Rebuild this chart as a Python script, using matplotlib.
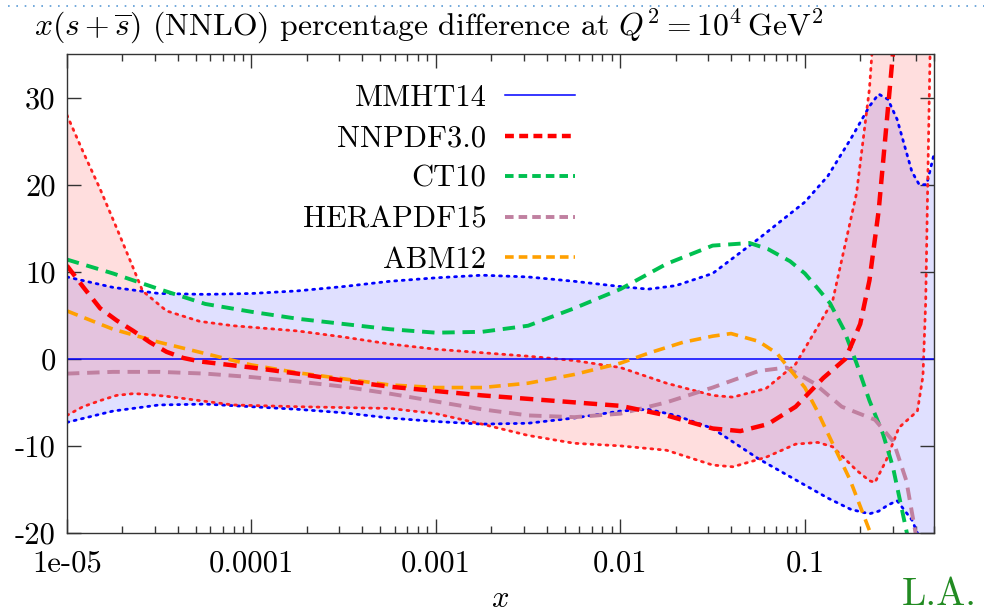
import matplotlib
matplotlib.use("Agg")
import matplotlib.pyplot as plt
from matplotlib.lines import Line2D
import numpy as np

plt.rcParams['font.family'] = ['cmr10', 'DejaVu Serif']
plt.rcParams['mathtext.fontset'] = 'cm'
plt.rcParams['axes.unicode_minus'] = False

# ---- data (x given as log10 x) ----
mmht_lx = [-5, -4.75, -4.5, -4.25, -4, -3.75, -3.5, -3.25, -3, -2.75, -2.5, -2.25, -2,
           -1.85, -1.7, -1.5, -1.25, -1, -0.875, -0.75, -0.65, -0.6, -0.55, -0.5,
           -0.42, -0.38, -0.34, -0.3]
mmht_up = [9.4, 8.2, 7.5, 7.4, 7.5, 7.8, 8.3, 8.9, 9.3, 9.6, 9.4, 8.9, 8.3,
           8.0, 8.4, 9.8, 13.8, 18.0, 21.0, 25.3, 29.0, 30.4, 29.8, 27.5,
           21.5, 20.0, 20.0, 23.5]
mmht_lo = [-7.3, -6.0, -5.3, -5.2, -5.5, -5.8, -6.2, -6.8, -7.2, -7.5, -7.4, -6.8, -6.0,
           -5.8, -6.5, -8.0, -11.5, -14.5, -16.0, -17.3, -17.8, -17.5, -16.8, -16.3,
           -18.5, -20.5, -23.0, -26.0]

nnpdf_lx = [-5, -4.913, -4.82, -4.73, -4.64, -4.59, -4.46, -4.28, -4.1, -3.75, -3.5,
            -3.25, -3, -2.75, -2.5, -2.25, -2, -1.75, -1.5, -1.39, -1.21, -1.05, -0.93,
            -0.85, -0.72, -0.65, -0.62, -0.56, -0.49, -0.39, -0.36, -0.345, -0.33, -0.3]
nnpdf_up = [28, 23.8, 19.5, 15, 10.4, 7.8, 5.5, 4.3, 3.8, 3.2, 2.5,
            1.7, 1.1, 0.7, 0.3, -0.2, -1.0, -2.8, -4.2, -4.4, -3.4, -0.6, 3.7,
            6.6, 19, 31, 40, 50, 60, 60, 60, 60, 60, 60]
nnpdf_lo = [-6.5, -5.5, -4.8, -4.2, -4.0, -4.05, -4.3, -4.8, -5.3, -5.5, -5.6,
            -5.7, -6.3, -7.5, -8.8, -9.7, -10.0, -10.5, -12.2, -12.4, -11.3, -9.8, -9.6,
            -10.1, -12.8, -14.0, -14.2, -11.7, -7.9, -6.0, -2.0, 6.6, 25, 60]

nnpdf_c_lx = [-5, -4.91, -4.82, -4.73, -4.64, -4.55, -4.46, -4.37, -4.28, -4, -3.75,
              -3.5, -3.25, -3, -2.75, -2.5, -2.25, -2, -1.75, -1.5, -1.35, -1.2, -1.05,
              -0.9, -0.78, -0.7, -0.65, -0.6, -0.57, -0.54, -0.51]
nnpdf_c = [10.7, 8.2, 5.8, 4.4, 3.2, 1.9, 0.8, 0.1, -0.3, -1.0, -1.7,
           -2.5, -3.2, -3.7, -4.2, -4.6, -5.0, -5.4, -6.5, -8.0, -8.3, -7.5, -5.5,
           -2.2, 0.0, 4.0, 9.0, 17.0, 24.0, 31.0, 38.0]

ct10_lx = [-5, -4.75, -4.5, -4.25, -4, -3.75, -3.5, -3.25, -3, -2.75, -2.5, -2.25, -2,
           -1.75, -1.5, -1.3, -1.2, -1.08, -1.0, -0.935, -0.864, -0.79, -0.72, -0.65,
           -0.577, -0.523, -0.485, -0.447, -0.4]
ct10 = [11.4, 9.8, 8.0, 6.3, 5.4, 4.6, 4.0, 3.4, 3.0, 3.1, 3.8, 5.8, 8.0,
        10.9, 13.0, 13.3, 12.6, 11.2, 9.8, 8.2, 6.4, 3.4, -0.5, -4.8,
        -8.6, -12.4, -16.2, -20.0, -27.0]

hera_lx = [-5, -4.75, -4.5, -4.25, -4, -3.75, -3.5, -3.25, -3, -2.75, -2.5, -2.25, -2,
           -1.75, -1.5, -1.25, -1.1, -0.95, -0.8, -0.62, -0.52, -0.45, -0.4, -0.36]
hera = [-1.7, -1.5, -1.5, -1.7, -2.1, -2.6, -3.2, -4.0, -4.9, -5.8, -6.5, -6.7, -6.3,
        -5.0, -3.3, -1.4, -1.0, -2.8, -5.5, -7.0, -9.5, -14.0, -20.0, -26.0]

abm_lx = [-5, -4.75, -4.5, -4.25, -4, -3.75, -3.5, -3.25, -3, -2.75, -2.5, -2.25, -2,
          -1.84, -1.66, -1.5, -1.4, -1.25, -1.15, -1.09, -1.0, -0.935, -0.85, -0.755,
          -0.65, -0.6]
abm = [5.5, 3.4, 1.9, 0.6, -0.7, -1.6, -2.3, -3.0, -3.3, -3.3, -2.8, -1.8, -0.5,
       0.7, 1.9, 2.6, 2.9, 2.0, 0.6, -1.0, -3.3, -5.9, -9.7, -13.9,
       -19.7, -26.0]

labels = ['MMHT14', 'NNPDF3.0', 'CT10', 'HERAPDF15', 'ABM12']
colors = ['#0000ff', '#ff0000', '#00c050', '#c080a0', '#ffa000']

xt = [1e-5, 1e-4, 1e-3, 1e-2, 1e-1]
xt_labels = ['1e-05', '0.0001', '0.001', '0.01', '0.1']
yt = [-20, -10, 0, 10, 20, 30]

fig = plt.figure(figsize=(9.84, 6.11), dpi=100)
ax = fig.add_axes([0.068, 0.1277, 0.881, 0.7839])

X = lambda lx: 10.0 ** np.asarray(lx)

ax.fill_between(X(mmht_lx), mmht_lo, mmht_up, color=(0, 0, 1), alpha=0.12, lw=0)
ax.fill_between(X(nnpdf_lx), nnpdf_lo, nnpdf_up, color=(1, 0, 0), alpha=0.13, lw=0)

dot = (0, (0.7, 2.0))
ax.plot(X(mmht_lx), mmht_up, color='#0000ff', ls=dot, lw=2.0, dash_capstyle='round')
ax.plot(X(mmht_lx), mmht_lo, color='#0000ff', ls=dot, lw=2.0, dash_capstyle='round')
ax.plot(X(nnpdf_lx), nnpdf_up, color='#ff2020', ls=dot, lw=2.0, dash_capstyle='round')
ax.plot(X(nnpdf_lx), nnpdf_lo, color='#ff2020', ls=dot, lw=2.0, dash_capstyle='round')

ax.axhline(0, color=colors[0], lw=1.1)
ax.plot(X(ct10_lx), ct10, color=colors[2], lw=2.8, dashes=(3.2, 2.0))
ax.plot(X(hera_lx), hera, color=colors[3], lw=2.8, dashes=(3.2, 2.0))
ax.plot(X(abm_lx), abm, color=colors[4], lw=2.6, dashes=(3.2, 2.0))
ax.plot(X(nnpdf_c_lx), nnpdf_c, color=colors[1], lw=3.2, dashes=(3.0, 1.8))

ax.set_xscale('log')
ax.set_xlim(1e-5, 0.5)
ax.set_ylim(-20, 35)
ax.set_xticks(xt)
ax.set_xticklabels(xt_labels)
ax.set_yticks(yt)
ax.set_yticklabels([str(v) for v in yt])
ax.tick_params(which='both', direction='in', top=True, right=True,
               labelsize=22, color='#333333')
ax.tick_params(axis='x', pad=12)
ax.tick_params(axis='y', pad=8)
ax.tick_params(which='major', length=10, width=1)
ax.tick_params(which='minor', length=5, width=1)
for s in ax.spines.values():
    s.set_color('#333333')
    s.set_linewidth(1.0)
ax.set_xlabel('$x$', fontsize=22, labelpad=6)

handles = [Line2D([], [], color=colors[0], lw=1.1),
           Line2D([], [], color=colors[1], lw=3.2, dashes=(2.0, 1.2)),
           Line2D([], [], color=colors[2], lw=2.8, dashes=(2.2, 1.3)),
           Line2D([], [], color=colors[3], lw=2.8, dashes=(2.2, 1.3)),
           Line2D([], [], color=colors[4], lw=2.6, dashes=(2.4, 1.4))]
ax.legend(handles, labels, loc='upper right', bbox_to_anchor=(0.586, 0.937),
          frameon=False, markerfirst=False, fontsize=22, handlelength=2.3,
          handletextpad=0.6, labelspacing=0.43, borderaxespad=0, borderpad=0)

fig.text(0.035, 0.958,
         r'$x(s+\overline{s})$ (NNLO) percentage difference at $Q^2 = 10^4\,\mathrm{GeV}^2$',
         fontsize=22.8, va='center', ha='left')
fig.text(0.916, 0.01, 'L.A.', fontsize=28, color='#228b22', ha='left', va='baseline')
fig.add_artist(Line2D([0.008, 1.0], [0.99, 0.99], color='#5b9bd5', lw=1.2,
                      ls=(0, (1, 4)), transform=fig.transFigure))

fig.savefig('out.png', dpi=100)
